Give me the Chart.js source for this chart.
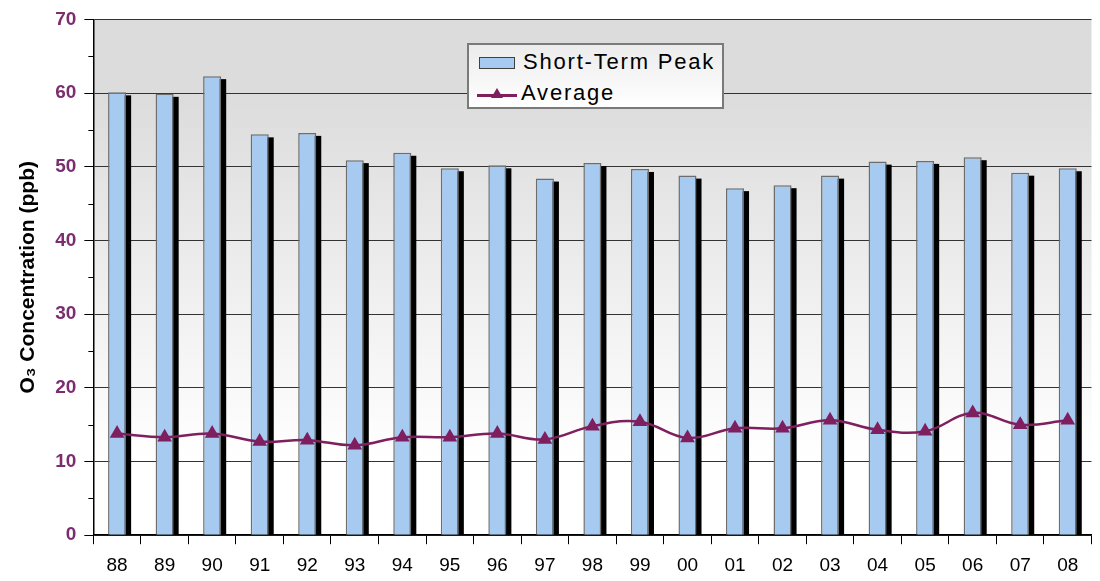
<!DOCTYPE html>
<html>
<head>
<meta charset="utf-8">
<script src="https://cdn.jsdelivr.net/npm/chart.js"></script>
<style>
  html, body { margin: 0; padding: 0; background: #fff; }
  #wrap { position: relative; width: 1100px; height: 581px; }
  #legend {
    position: absolute; left: 467px; top: 43px; width: 253px; height: 62px;
    border: 2px solid #7a7a7a; background: linear-gradient(#ececec, #ffffff);
    font-family: "Liberation Sans", Arial, sans-serif; font-size: 22px; letter-spacing: 1.8px; color: #000;
  }
  .row { position: absolute; left: 10px; height: 28px; line-height: 28px; white-space: nowrap; }
  .swatch { display: inline-block; width: 34px; height: 10px; background: #a6caf0; border: 1.5px solid #404040; vertical-align: middle; margin-right: 8px; }
  .lineswatch { display: inline-block; position: relative; width: 40px; height: 10px; vertical-align: middle; margin-right: 4px; }
  .lineswatch:before { content: ""; position: absolute; left: 0; right: 0; top: 5px; height: 2.5px; background: #7f1f5f; }
  .lineswatch:after { content: ""; position: absolute; left: 14px; top: -1px; border-left: 6px solid transparent; border-right: 6px solid transparent; border-bottom: 10px solid #7f1f5f; }
</style>
</head>
<body>
<div id="wrap">
  <canvas id="myChart" width="1100" height="581"></canvas>
  <div id="legend">
    <div class="row" style="top:3px"><span class="swatch"></span>Short-Term Peak</div>
    <div class="row" style="top:34px;left:8px"><span class="lineswatch"></span>Average</div>
  </div>
</div>
<script>
const years = ["88", "89", "90", "91", "92", "93", "94", "95", "96", "97", "98", "99", "00", "01", "02", "03", "04", "05", "06", "07", "08"];
const peakValues = [60.1, 59.9, 62.3, 54.4, 54.6, 50.9, 51.9, 49.8, 50.2, 48.4, 50.5, 49.7, 48.8, 47.1, 47.5, 48.8, 50.7, 50.8, 51.3, 49.2, 49.8];
const averageValues = [13.8, 13.3, 13.8, 12.7, 12.9, 12.2, 13.3, 13.3, 13.8, 13.0, 14.8, 15.4, 13.2, 14.5, 14.5, 15.6, 14.3, 14.1, 16.6, 15.0, 15.6];
const yTicks = [0, 10, 20, 30, 40, 50, 60, 70];

const plotBackground = {
  id: "plotBackground",
  beforeDraw(chart) {
    const { ctx, chartArea: a } = chart;
    const g = ctx.createLinearGradient(0, a.top, 0, a.bottom);
    g.addColorStop(0, "#dcdcdc");
    g.addColorStop(0.15, "#dcdcdc");
    g.addColorStop(0.85, "#ffffff");
    g.addColorStop(1, "#ffffff");
    ctx.save();
    ctx.fillStyle = g;
    ctx.fillRect(a.left, a.top, a.right - a.left, a.bottom - a.top);
    ctx.restore();
  }
};

const barShadow = {
  id: "barShadow",
  beforeDatasetDraw(chart, args) {
    if (chart.data.datasets[args.index].type !== "bar") return;
    const ctx = chart.ctx;
    ctx.save();
    ctx.fillStyle = "#000";
    args.meta.data.forEach(bar => {
      const p = bar.getProps(["x", "y", "base", "width"], true);
      ctx.fillRect(p.x - p.width / 2 + 5, p.y + 3, p.width, p.base - p.y - 3);
    });
    ctx.restore();
  }
};

const minorTicks = {
  id: "minorTicks",
  afterDraw(chart) {
    const { ctx, scales: { y } } = chart;
    ctx.save();
    ctx.strokeStyle = "#000";
    ctx.lineWidth = 1;
    for (let v = 5; v < 70; v += 10) {
      const py = Math.round(y.getPixelForValue(v)) + 0.5;
      ctx.beginPath();
      ctx.moveTo(y.right - 5, py);
      ctx.lineTo(y.right, py);
      ctx.stroke();
    }
    ctx.restore();
  }
};

new Chart(document.getElementById("myChart").getContext("2d"), {
  data: {
    labels: years,
    datasets: [
      {
        type: "line", label: "Average", data: averageValues, order: 0,
        borderColor: "#7f1f5f", backgroundColor: "#7f1f5f", borderWidth: 2.5,
        tension: 0.4, pointStyle: "triangle", pointRadius: 6, pointHoverRadius: 6
      },
      {
        type: "bar", label: "Short-Term Peak", data: peakValues, order: 1,
        backgroundColor: "#a6caf0", borderColor: "#6d6d6d", borderWidth: 1.5,
        barPercentage: 0.38, categoryPercentage: 1
      }
    ]
  },
  options: {
    responsive: false,
    animation: false,
    layout: { padding: { top: 7, right: 1, bottom: -6, left: 12 } },
    plugins: { legend: { display: false }, tooltip: { enabled: false } },
    scales: {
      x: {
        offset: true,
        grid: { offset: true, drawOnChartArea: false, color: "#000", tickLength: 9 },
        border: { color: "#000", width: 1.5 },
        ticks: { color: "#000", font: { family: "Liberation Sans, Arial", size: 19 }, padding: 10 }
      },
      y: {
        min: 0, max: 70,
        afterBuildTicks: axis => { axis.ticks = yTicks.map(v => ({ value: v })); },
        grid: { color: "#333", tickColor: "#000", tickLength: 9 },
        border: { color: "#000", width: 1.5 },
        ticks: { color: "#7b2d6f", font: { family: "Liberation Sans, Arial", size: 19, weight: "bold" }, padding: 8 },
        title: {
          display: true, text: "O₃ Concentration (ppb)", color: "#000",
          font: { family: "Liberation Sans, Arial", size: 21, weight: "bold" }, padding: { bottom: 6 }
        }
      }
    }
  },
  plugins: [plotBackground, barShadow, minorTicks]
});
</script>
</body>
</html>
